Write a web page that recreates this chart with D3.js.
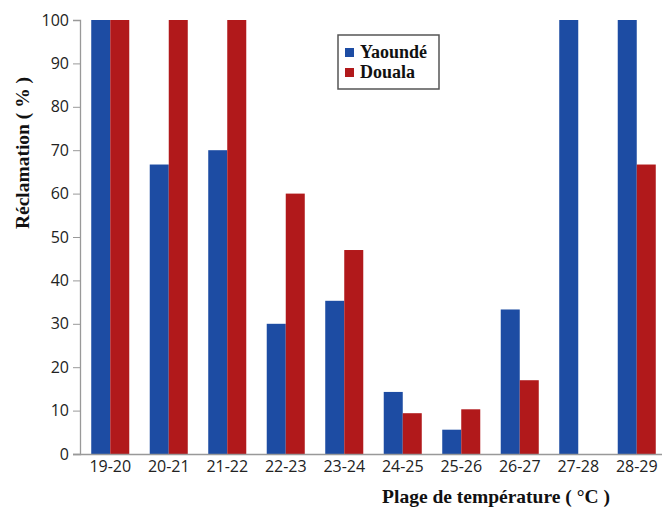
<!DOCTYPE html>
<html><head><meta charset="utf-8">
<script src="https://cdn.jsdelivr.net/npm/d3@7"></script>
<style>body{margin:0;background:#fff}svg{display:block}</style>
</head><body>
<svg id="c" width="662" height="512"></svg>
<script>
const categories = ["19-20","20-21","21-22","22-23","23-24","24-25","25-26","26-27","27-28","28-29"];
const seriesNames = ["Yaoundé","Douala"];
const yaounde = [100, 66.7, 70, 30, 35.3, 14.3, 5.6, 33.3, 100, 100];
const douala  = [100, 100, 100, 60, 47, 9.4, 10.3, 17, 0, 66.7];
const yTicks = [0,10,20,30,40,50,60,70,80,90,100];
const colors = ["#1d4ca3", "#b1191b"];

const data = categories.map((c,i)=>({cat:c, vals:[yaounde[i], douala[i]]}));
const svg = d3.select("#c");
const x = d3.scaleBand().domain(categories).range([81, 666]).paddingInner(0.35).paddingOuter(0.175);
const xs = d3.scaleBand().domain([0,1]).range([0, x.bandwidth()]);
const y = d3.scaleLinear().domain([0,100]).range([454, 20]);

const g = svg.append("g");
g.selectAll("g.grp").data(data).join("g")
  .attr("transform", d=>`translate(${x(d.cat)},0)`)
  .selectAll("rect").data(d=>d.vals.map((v,k)=>({v,k}))).join("rect")
  .attr("x", d=>xs(d.k)).attr("width", xs.bandwidth())
  .attr("y", d=>y(d.v)).attr("height", d=>y(0)-y(d.v))
  .attr("fill", d=>colors[d.k]);

const yAxis = svg.append("g").attr("transform","translate(80,0)")
  .call(d3.axisLeft(y).tickValues(yTicks).tickSize(7).tickPadding(4));
yAxis.select(".domain").attr("stroke","#999").attr("stroke-width",1.3);
yAxis.selectAll(".tick line").attr("stroke","#999");
yAxis.selectAll("text").attr("font-family","Open Sans, sans-serif").attr("font-size",16).attr("fill","#222");

svg.append("line").attr("x1",73).attr("x2",662).attr("y1",454.5).attr("y2",454.5)
  .attr("stroke","#999").attr("stroke-width",1.3);

const xAxis = svg.append("g").attr("transform","translate(0,454)")
  .call(d3.axisBottom(x).tickSize(0).tickPadding(7));
xAxis.select(".domain").remove();
xAxis.selectAll("text").attr("font-family","Open Sans, sans-serif").attr("font-size",16).attr("fill","#222");

svg.append("text").attr("transform","translate(29,153) rotate(-90)")
  .attr("text-anchor","middle").attr("font-family","Liberation Serif, serif")
  .attr("font-weight","bold").attr("font-size",19.5).attr("fill","#111")
  .text("Réclamation ( % )");
svg.append("text").attr("x",496).attr("y",503)
  .attr("text-anchor","middle").attr("font-family","Liberation Serif, serif")
  .attr("font-weight","bold").attr("font-size",19.5).attr("fill","#111")
  .text("Plage de température ( °C )");

const leg = svg.append("g");
leg.append("rect").attr("x",338).attr("y",35).attr("width",101).attr("height",54)
  .attr("fill","#fff").attr("stroke","#555").attr("stroke-width",1.5);
seriesNames.forEach((n,i)=>{
  leg.append("rect").attr("x",345).attr("y",48+i*20).attr("width",9).attr("height",9).attr("fill",colors[i]);
  leg.append("text").attr("x",360).attr("y",58+i*20).attr("font-family","Liberation Serif, serif")
    .attr("font-weight","bold").attr("font-size",18).attr("fill","#111").text(n);
});
</script>
</body></html>
